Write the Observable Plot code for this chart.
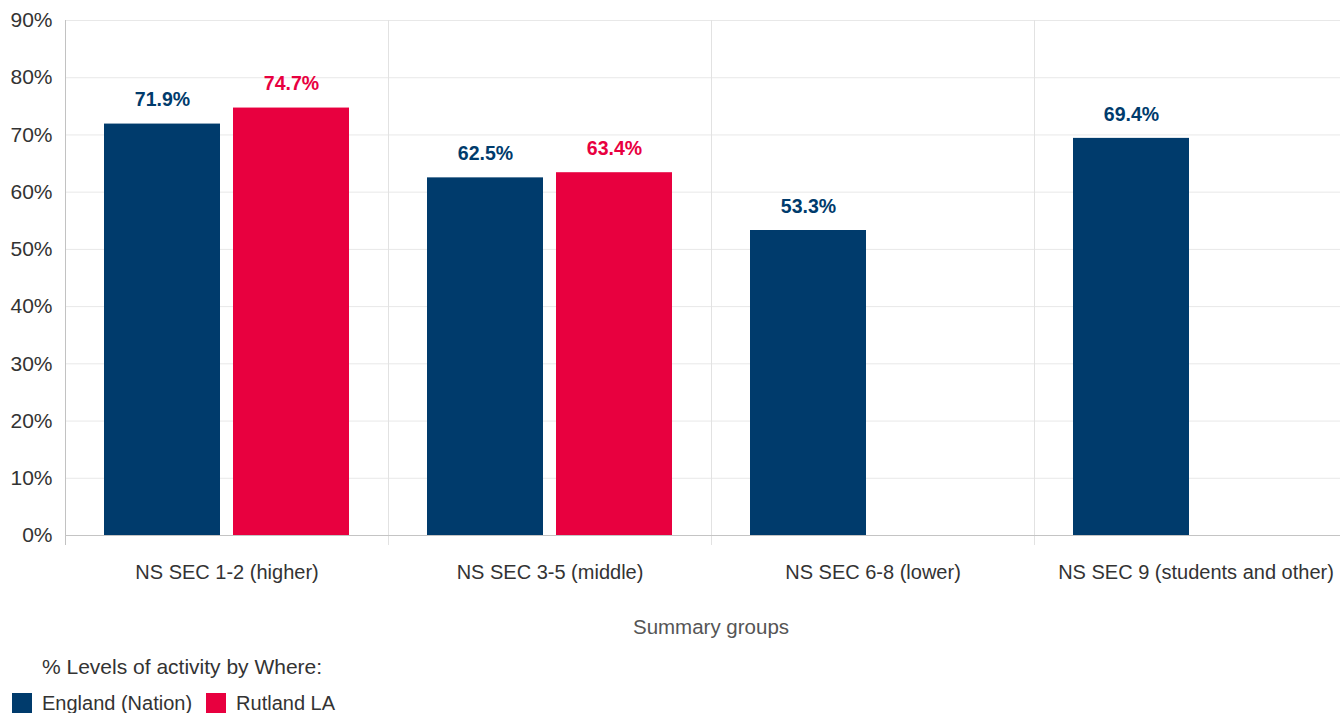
<!DOCTYPE html>
<html>
<head>
<meta charset="utf-8">
<script src="https://cdn.jsdelivr.net/npm/d3@7"></script>
<script src="https://cdn.jsdelivr.net/npm/@observablehq/plot@0.6"></script>
<style>
  html, body { margin: 0; padding: 0; background: #fff; overflow: hidden; }
  #wrap { position: relative; width: 1340px; height: 713px; overflow: hidden;
          font-family: "Liberation Sans", Arial, sans-serif; color: #333; }
  #chart { position: absolute; left: 0; top: 0; width: 1360px; }
  .axis-title { position: absolute; left: 65px; width: 1292px; top: 614px; text-align: center;
                font-size: 20.5px; color: #555; line-height: 26px; }
  .legend-title { position: absolute; left: 42px; top: 654px; font-size: 21px; color: #333; line-height: 26px; }
  .legend { position: absolute; left: 12px; top: 690px; display: flex; align-items: center;
            font-size: 20px; color: #333; line-height: 26px; }
  .legend .sw { width: 20px; height: 20px; display: inline-block; margin-right: 10px; }
  .legend .item { display: flex; align-items: center; margin-right: 14px; }
</style>
</head>
<body>
<div id="wrap">
  <div id="chart"></div>
  <div class="axis-title">Summary groups</div>
  <div class="legend-title">% Levels of activity by Where:</div>
  <div class="legend" id="legend"></div>
</div>
<script>
// Socio-economic summary groups (NS SEC) and the two areas compared
const groups = [
  "NS SEC 1-2 (higher)",
  "NS SEC 3-5 (middle)",
  "NS SEC 6-8 (lower)",
  "NS SEC 9 (students and other)"
];
const areas = ["England (Nation)", "Rutland LA"];

// % active, per group; Rutland has no figure for the last two groups
const englandValues = [71.9, 62.5, 53.3, 69.4];
const rutlandValues = [74.7, 63.4, null, null];

const yTicks = [0, 10, 20, 30, 40, 50, 60, 70, 80, 90];
const areaColors = ["#003b6c", "#e8003f"];

const rows = [];
groups.forEach((g, i) => {
  if (englandValues[i] != null) rows.push({group: g, area: areas[0], value: englandValues[i]});
  if (rutlandValues[i] != null) rows.push({group: g, area: areas[1], value: rutlandValues[i]});
});

const chart = Plot.plot({
  width: 1360,
  height: 585,
  marginLeft: 65,
  marginRight: 3,
  marginTop: 20,
  marginBottom: 50,
  style: {fontFamily: "'Liberation Sans', Arial, sans-serif", fontSize: "20px", color: "#333",
          background: "transparent", maxWidth: "none"},
  fx: {domain: groups, padding: 0, label: null, tickSize: 0, tickPadding: 29},
  x: {domain: areas, paddingInner: 0.1, paddingOuter: 0.3, axis: null},
  y: {domain: [0, 90], ticks: yTicks, tickFormat: d => d + "%", tickSize: 0, tickPadding: 13, label: null},
  color: {domain: areas, range: areaColors},
  marks: [
    Plot.gridY(yTicks, {stroke: "#e8e8e8", strokeOpacity: 1}),
    Plot.frame({anchor: "left", stroke: "#e2e2e2", insetBottom: -9}),
    Plot.frame({anchor: "left", stroke: "#c2c2c2", insetBottom: -9, fx: () => groups[0]}),
    Plot.ruleY([0], {stroke: "#c4c4c4"}),
    Plot.barY(rows, {fx: "group", x: "area", y: "value", fill: "area"}),
    Plot.text(rows, {
      fx: "group", x: "area", y: "value",
      text: d => d.value.toFixed(1) + "%",
      fill: "area", dy: -24, fontWeight: "bold", fontSize: 19.5
    })
  ]
});
// y tick labels are set slightly larger than the group labels
chart.querySelectorAll("g[aria-label='y-axis tick label']").forEach(g => g.setAttribute("font-size", "21"));
document.getElementById("chart").appendChild(chart);

// Legend swatches from the same colour list
const legend = document.getElementById("legend");
areas.forEach((a, i) => {
  const item = document.createElement("span");
  item.className = "item";
  const sw = document.createElement("span");
  sw.className = "sw";
  sw.style.background = areaColors[i];
  item.appendChild(sw);
  item.appendChild(document.createTextNode(a));
  legend.appendChild(item);
});
</script>
</body>
</html>
